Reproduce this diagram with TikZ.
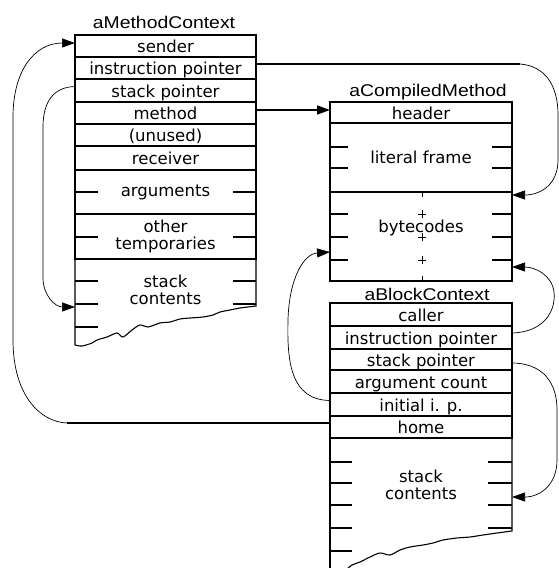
\documentclass[tikz,border=0pt]{standalone}
\usepackage{fontspec}
\usetikzlibrary{arrows.meta}
\newfontfamily\titlefont[FakeStretch=1.14]{Liberation Sans}
\newfontfamily\cellfont{DejaVu Sans}

\begin{document}
\begin{tikzpicture}[x=1pt,y=-1pt,
  box/.style={line width=1.1pt},
  cell/.style={draw, box, inner sep=0pt, outer sep=0pt, anchor=north west,
    font=\cellfont\fontsize{16.5}{17}\selectfont, text height=14.5pt, text depth=1.5pt},
  region/.style={draw, box, inner sep=0pt, outer sep=0pt, anchor=north west, align=center,
    font=\cellfont\fontsize{16.5}{17}\selectfont},
  txt/.style={inner sep=0pt, align=center, font=\cellfont\fontsize{16.5}{17}\selectfont},
  title/.style={inner sep=0pt, anchor=base, font=\titlefont\fontsize{17}{17}\selectfont},
  mw/.style={minimum width=181pt},
  cw/.style={minimum width=182pt},
  tick/.style={box},
  straight/.style={line width=1.5pt},
  curve/.style={line width=0.7pt},
  tip/.style={-{Triangle[length=13pt,width=9pt]}}
]
\useasboundingbox (0,0) rectangle (558,568);

% ---------- aMethodContext ----------
\node[title] (mct) at (164,28) {aMethodContext};
\node[cell,mw,minimum height=22pt] (ms)     at (75,35)  {sender};
\node[cell,mw,minimum height=22pt] (mip)    at (75,57)  {instruction pointer};
\node[cell,mw,minimum height=23pt] (msp)    at (75,79)  {stack pointer};
\node[cell,mw,minimum height=22pt] (mmeth)  at (75,102) {method};
\node[cell,mw,minimum height=22pt] (munused) at (75,124) {(unused)};
\node[cell,mw,minimum height=24pt] (mrecv)  at (75,146) {receiver};
\node[region,mw,minimum height=44pt] (margs) at (75,170) {arguments};
\node[region,mw,minimum height=45pt] (mtemp) at (75,214) {other\\temporaries};
\node[txt] (mstack) at (165.5,289.5) {stack\\contents};
% open bottom of the stack area
\draw[box] (75,259) -- (75,345)
  plot[smooth,tension=0.5] coordinates {(75,345) (82,346) (92,343) (97,340) (107,337)
    (117,333) (123,337) (132,330) (140,325) (148,327) (160,323) (170,322) (180,319)
    (190,318) (203,317) (213,315) (220,312) (230,310) (240,308) (256,306)}
  -- (256,259);
\foreach \y in {192,237,281,304,327} \draw[tick] (75,\y) -- (98,\y);
\foreach \y in {192,237,281,304} \draw[tick] (233,\y) -- (256,\y);

% ---------- aCompiledMethod ----------
\node[title] (cmt) at (428,96) {aCompiledMethod};
\node[cell,cw,minimum height=21pt] (chead) at (330,102) {header};
\node[region,cw,minimum height=69pt] (clit) at (330,123) {literal frame};
\node[region,cw,minimum height=89pt] (cbyte) at (330,192) {};
\node[txt,anchor=base] (cbytet) at (421,232) {bytecodes};
\foreach \y in {147,168,214,237,260} {
  \draw[tick] (330,\y) -- (348,\y);
  \draw[tick] (492,\y) -- (512,\y);
}
\foreach \y in {214,237,260} {
  \draw[line width=0.9pt] (418,\y) -- (426,\y) (422,\y-4) -- (422,\y+4);
}
\draw[line width=0.9pt] (422,192) -- (422,197) (422,276) -- (422,281);

% ---------- aBlockContext ----------
\node[title] (bct) at (427,300) {aBlockContext};
\node[cell,cw,minimum height=23pt] (bcaller) at (330,303) {caller};
\node[cell,cw,minimum height=23pt] (bip)     at (330,326) {instruction pointer};
\node[cell,cw,minimum height=21pt] (bsp)     at (330,349) {stack pointer};
\node[cell,cw,minimum height=23pt] (bargc)   at (330,370) {argument count};
\node[cell,cw,minimum height=23pt] (binit)   at (330,393) {initial i. p.};
\node[cell,cw,minimum height=22pt] (bhome)   at (330,416) {home};
\node[txt] (bstack) at (421,485) {stack\\contents};
\draw[box] (330,438) -- (330,570);
\draw[box] (346,570)
  plot[smooth,tension=0.5] coordinates {(346,570) (352,565) (360,562) (370,557) (380,553)
    (390,555) (400,550) (410,547) (423,545) (433,543) (443,540) (457,538) (470,537)
    (483,535) (497,533) (512,531)}
  -- (512,438);
\foreach \y in {462,483,505,528,551} \draw[tick] (330,\y) -- (352,\y);
\foreach \y in {462,483,505,528} \draw[tick] (488,\y) -- (512,\y);

% ---------- pointers ----------
\coordinate (homebend) at (67,423);
\coordinate (mstk) at (75,307);
\coordinate (ipbend) at (520,64);
\coordinate (bytop) at (512,195);
\coordinate (byleft) at (330,252);
\coordinate (byright) at (512,267);
\coordinate (bstk) at (512,497);

% home -> sender
\draw[straight] ([yshift=4pt]bhome.west) -- (homebend);
\draw[curve,tip] (homebend) .. controls (40,422) and (13,395) .. (13,340)
  -- (13,117) .. controls (13,70) and (35,43) .. ([yshift=3pt]ms.west);

% stack pointer -> stack contents
\draw[curve,tip] ([yshift=4pt]msp.west) .. controls (55,87) and (43,100) .. (43,127)
  -- (43,278) .. controls (43,295) and (55,307) .. (mstk);

% instruction pointer -> bytecodes
\draw[straight] ([yshift=4pt]mip.east) -- (ipbend);
\draw[curve,tip] (ipbend) .. controls (545,66) and (558,85) .. (558,115)
  -- (558,160) .. controls (558,185) and (540,195) .. (bytop);

% method -> header
\draw[straight,tip] ([yshift=3pt]mmeth.east) -- ([yshift=3pt]mmeth.east -| chead.west);

% initial i. p. -> bytecodes
\draw[curve,tip] ([yshift=4pt]binit.west) .. controls (290,400) and (287,360) .. (288,320)
  .. controls (289,280) and (303,254) .. (byleft);

% block instruction pointer -> bytecodes
\draw[curve,tip] ([yshift=4.5pt]bip.east) .. controls (545,332) and (556,310) .. (554,292)
  .. controls (552,275) and (535,267) .. (byright);

% block stack pointer -> stack contents
\draw[curve,tip] ([yshift=-3.5pt]bsp.east) .. controls (535,363) and (557,375) .. (557,410)
  -- (557,460) .. controls (557,485) and (540,497) .. (bstk);
\end{tikzpicture}
\end{document}
